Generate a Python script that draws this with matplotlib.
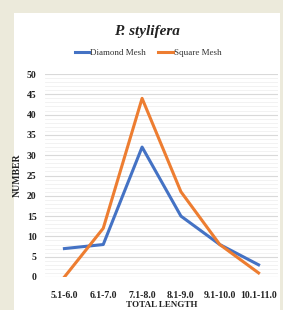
import matplotlib
matplotlib.use("Agg")
import matplotlib.pyplot as plt
from matplotlib.ticker import MultipleLocator

categories = ["5.1-6.0", "6.1-7.0", "7.1-8.0", "8.1-9.0", "9.1-10.0", "10.1-11.0"]
diamond = [7, 8, 32, 15, 8, 3]
square = [0, 12, 44, 21, 8, 1]
yticks = [0, 5, 10, 15, 20, 25, 30, 35, 40, 45, 50]

W, H = 283, 310
fig = plt.figure(figsize=(W / 100, H / 100), dpi=100)
fig.patch.set_facecolor("#ECEADB")
bg = fig.add_axes([14 / W, 0, (280 - 14) / W, (H - 13) / H], zorder=0)
bg.set_facecolor("white")
bg.set_xticks([]); bg.set_yticks([])
for s in bg.spines.values():
    s.set_visible(False)

ax = fig.add_axes([45 / W, (H - 277) / H, (278 - 45) / W, (277 - 74) / H], zorder=1)
ax.set_facecolor("none")
x = list(range(len(categories)))
ax.plot(x, diamond, color="#4472C4", lw=2.2, label="Diamond Mesh", zorder=3)
ax.plot(x, square, color="#ED7D31", lw=2.2, label="Square Mesh", zorder=3)

ax.set_xlim(-0.5, len(categories) - 0.5)
ax.set_ylim(0, 50)
ax.set_yticks(yticks)
ax.yaxis.set_minor_locator(MultipleLocator(1))
ax.grid(which="major", axis="y", color="#D9D9D9", lw=0.8)
ax.grid(which="minor", axis="y", color="#F0F0F0", lw=0.6)
ax.set_axisbelow(True)
for s in ax.spines.values():
    s.set_visible(False)
ax.tick_params(length=0, which="both")
ax.set_xticks(x)
ax.set_xticklabels(categories)
serif = ["Liberation Serif", "DejaVu Serif"]
for lab in ax.get_xticklabels() + ax.get_yticklabels():
    lab.set_fontfamily(serif)
    lab.set_fontweight("bold")
    lab.set_fontsize(7)
    lab.set_color("#222222")
ax.tick_params(axis="x", pad=10)
ax.tick_params(axis="y", pad=6)
ax.set_xlabel("TOTAL LENGTH", family=serif, fontweight="bold", fontsize=6.5,
              color="#222222", labelpad=1)
ax.set_ylabel("NUMBER", family=serif, fontweight="bold", fontsize=7,
              color="#222222", labelpad=4)

fig.text(147 / W, 1 - 31 / H, "P. stylifera", family=serif, style="italic",
         fontweight="bold", fontsize=11, ha="center", va="center", color="#222222")
leg = fig.legend(loc="center", bbox_to_anchor=(148 / W, 1 - 53 / H), ncol=2,
                 frameon=False, prop={"family": serif, "size": 6.5},
                 handlelength=1.6, handletextpad=0.1, columnspacing=1.4)
for t in leg.get_texts():
    t.set_color("#333333")

fig.savefig("out.png", dpi=100, facecolor=fig.get_facecolor())
